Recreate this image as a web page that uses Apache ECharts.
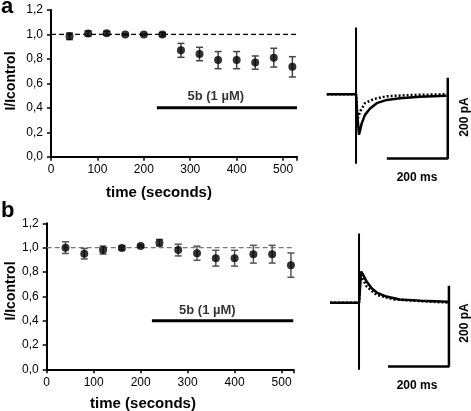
<!DOCTYPE html>
<html>
<head>
<meta charset="utf-8">
<script src="https://cdn.jsdelivr.net/npm/echarts@6/dist/echarts.min.js"></script>
<style>html,body{margin:0;padding:0;background:#fff}#c{width:471px;height:411px}</style>
</head>
<body>
<div id="c"></div>
<script>
// ---- data ----
const times = [40, 80, 120, 160, 200, 240, 280, 320, 360, 400, 440, 480, 520];
const aMean = [0.985, 1.007, 1.01, 1.0, 1.0, 1.0, 0.87, 0.84, 0.79, 0.79, 0.77, 0.81, 0.735];
const aErr  = [0.027, 0.02, 0.015, 0.005, 0.005, 0.015, 0.057, 0.055, 0.07, 0.07, 0.054, 0.077, 0.083];
const bMean = [1.0, 0.95, 0.98, 0.997, 1.014, 1.04, 0.98, 0.954, 0.913, 0.913, 0.946, 0.946, 0.856];
const bErr  = [0.048, 0.043, 0.033, 0.016, 0.008, 0.027, 0.048, 0.058, 0.065, 0.065, 0.073, 0.073, 0.1];
const yTicks = ['0,0', '0,2', '0,4', '0,6', '0,8', '1,0', '1,2'];
const xTicks = [0, 100, 200, 300, 400, 500];
const controlLevel = 1.0;
const drugA = [[228, 0.4], [530, 0.4]];
const drugB = [[224, 0.4], [525, 0.4]];
const drugLabel = '5b (1 µM)';
const drugLabelPosA = [355, 0.49];
const drugLabelPosB = [342, 0.48];

// current traces (ms, pA relative to baseline)
const traceASolid  = [[-96,0],[0,0],[4,-50],[9.8,-100],[18.6,-72],[29.5,-51],[46,-35],[68,-22],[101,-14],[144,-10],[210,-6],[297,-3.4]];
const traceADotted = [[-96,0],[0,0],[4.4,-63],[13,-43],[29.5,-22],[57,-12],[101,-5],[177,-2],[297,0]];
const traceBSolid  = [[-95,0],[0,0],[1,10],[6.6,77],[14,68],[25,52],[41.5,35.5],[58,25],[90,15],[134,8],[200,5],[293,2.5]];
const traceBDotted = [[-95,0],[0,0],[5,68],[25,40],[58,19],[114,8],[200,4],[293,0]];
const artifactA = [[0,165],[0,-172]];
const artifactB = [[0,171],[0,-166]];
const scaleBarA = [[101,-159],[301,-159],[301,41]];
const scaleBarB = [[95,-158],[295,-158],[295,42]];

const FONT = 'Liberation Sans, Arial, Helvetica, sans-serif';

function errRender(color) {
  return function (params, api) {
    const x = api.value(0), y = api.value(1), e = api.value(2);
    const p = api.coord([x, y + e]), q = api.coord([x, y - e]);
    const w = 3.5;
    const st = { stroke: color, lineWidth: 1.5 };
    return { type: 'group', children: [
      { type: 'line', shape: { x1: p[0], y1: p[1], x2: q[0], y2: q[1] }, style: st },
      { type: 'line', shape: { x1: p[0] - w, y1: p[1], x2: p[0] + w, y2: p[1] }, style: st },
      { type: 'line', shape: { x1: q[0] - w, y1: q[1], x2: q[0] + w, y2: q[1] }, style: st }
    ]};
  };
}

function xAxisCfg(gi, max) {
  return {
    gridIndex: gi, type: 'value', min: 0, max: max, interval: 100,
    axisLine: { show: true, lineStyle: { color: '#000', width: 2 } },
    axisTick: { show: true, length: 4, lineStyle: { color: '#000', width: 1.5 } },
    axisLabel: { color: '#000', fontSize: 12, fontFamily: FONT, margin: 7,
      formatter: v => (xTicks.indexOf(v) >= 0 ? String(v) : '') },
    splitLine: { show: false }
  };
}
function yAxisCfg(gi) {
  return {
    gridIndex: gi, type: 'value', min: 0, max: 1.2, interval: 0.2,
    axisLine: { show: true, lineStyle: { color: '#000', width: 2 } },
    axisTick: { show: true, length: 4, lineStyle: { color: '#000', width: 1.5 } },
    axisLabel: { color: '#000', fontSize: 12, fontFamily: FONT, margin: 8,
      formatter: v => yTicks[Math.round(v / 0.2)] },
    splitLine: { show: false }
  };
}
function hiddenAxis(gi, min, max) {
  return { gridIndex: gi, type: 'value', min: min, max: max, show: false,
    axisLine: { show: false }, axisTick: { show: false }, axisLabel: { show: false }, splitLine: { show: false } };
}

function panelSeries(gi, mean, err, errColor, dashColor, maxX, drug, labelPos) {
  return [
    { type: 'line', xAxisIndex: gi, yAxisIndex: gi, data: [[0, controlLevel], [maxX, controlLevel]],
      symbol: 'none', lineStyle: { color: dashColor, width: 1.3, type: [5, 3] }, silent: true, z: 1 },
    { type: 'line', xAxisIndex: gi, yAxisIndex: gi, data: drug, symbol: 'none',
      lineStyle: { color: '#000', width: 3 }, silent: true },
    { type: 'scatter', xAxisIndex: gi, yAxisIndex: gi, data: [labelPos], symbolSize: 0,
      label: { show: true, position: 'inside', formatter: drugLabel, color: '#000',
        fontSize: 13, fontWeight: 'bold', fontFamily: FONT }, silent: true },
    { type: 'custom', xAxisIndex: gi, yAxisIndex: gi, renderItem: errRender(errColor),
      data: times.map((t, i) => [t, mean[i], err[i]]), z: 3 },
    { type: 'scatter', xAxisIndex: gi, yAxisIndex: gi, data: times.map((t, i) => [t, mean[i]]),
      symbol: 'circle', symbolSize: 8, itemStyle: { color: '#000' }, z: 4 }
  ];
}
function traceSeries(gi, solid, dotted, artifact, bar) {
  const base = { type: 'line', xAxisIndex: gi, yAxisIndex: gi, symbol: 'none', silent: true };
  return [
    Object.assign({}, base, { data: artifact, lineStyle: { color: '#000', width: 2 } }),
    Object.assign({}, base, { data: dotted, lineStyle: { color: '#000', width: 2.5, type: [2, 2] } }),
    Object.assign({}, base, { data: solid, lineStyle: { color: '#000', width: 2.5 } }),
    Object.assign({}, base, { data: bar, lineStyle: { color: '#000', width: 2.5 } })
  ];
}

const chart = echarts.init(document.getElementById('c'), null, { renderer: 'canvas' });
chart.setOption({
  animation: false,
  backgroundColor: '#fff',
  grid: [
    { left: 51, top: 10, width: 246, height: 146.7 },
    { left: 46.7, top: 223.3, width: 246.6, height: 146 },
    { left: 322.5, top: 21.4, width: 134.1, height: 145.7 },
    { left: 325.5, top: 229.8, width: 134.1, height: 145.7 }
  ],
  xAxis: [xAxisCfg(0, 530), xAxisCfg(1, 525), hiddenAxis(2, -110, 330), hiddenAxis(3, -110, 330)],
  yAxis: [yAxisCfg(0), yAxisCfg(1), hiddenAxis(2, -180, 180), hiddenAxis(3, -180, 180)],
  series: [].concat(
    panelSeries(0, aMean, aErr, '#444', '#000', 530, drugA, drugLabelPosA),
    panelSeries(1, bMean, bErr, '#555', '#777', 525, drugB, drugLabelPosB),
    traceSeries(2, traceASolid, traceADotted, artifactA, scaleBarA),
    traceSeries(3, traceBSolid, traceBDotted, artifactB, scaleBarB)
  ),
  graphic: [
    { type: 'text', left: 1, top: -4, style: { text: 'a', font: 'bold 22px ' + FONT, fill: '#000' } },
    { type: 'text', left: 1, top: 200, style: { text: 'b', font: 'bold 22px ' + FONT, fill: '#000' } },
    { type: 'text', x: 11, y: 81, rotation: Math.PI / 2,
      style: { text: 'I/Icontrol', font: 'bold 14px ' + FONT, fill: '#000', textAlign: 'center', textVerticalAlign: 'middle' } },
    { type: 'text', x: 11, y: 291, rotation: Math.PI / 2,
      style: { text: 'I/Icontrol', font: 'bold 14px ' + FONT, fill: '#000', textAlign: 'center', textVerticalAlign: 'middle' } },
    { type: 'text', x: 159, y: 193,
      style: { text: 'time (seconds)', font: 'bold 15px ' + FONT, fill: '#000', textAlign: 'center', textVerticalAlign: 'middle' } },
    { type: 'text', x: 143, y: 404,
      style: { text: 'time (seconds)', font: 'bold 15px ' + FONT, fill: '#000', textAlign: 'center', textVerticalAlign: 'middle' } },
    { type: 'text', x: 417, y: 178,
      style: { text: '200 ms', font: 'bold 12px ' + FONT, fill: '#000', textAlign: 'center', textVerticalAlign: 'middle' } },
    { type: 'text', x: 417, y: 386,
      style: { text: '200 ms', font: 'bold 12px ' + FONT, fill: '#000', textAlign: 'center', textVerticalAlign: 'middle' } },
    { type: 'text', x: 465, y: 117, rotation: Math.PI / 2,
      style: { text: '200 pA', font: 'bold 12px ' + FONT, fill: '#000', textAlign: 'center', textVerticalAlign: 'middle' } },
    { type: 'text', x: 465, y: 323, rotation: Math.PI / 2,
      style: { text: '200 pA', font: 'bold 12px ' + FONT, fill: '#000', textAlign: 'center', textVerticalAlign: 'middle' } }
  ]
});
</script>
</body>
</html>
